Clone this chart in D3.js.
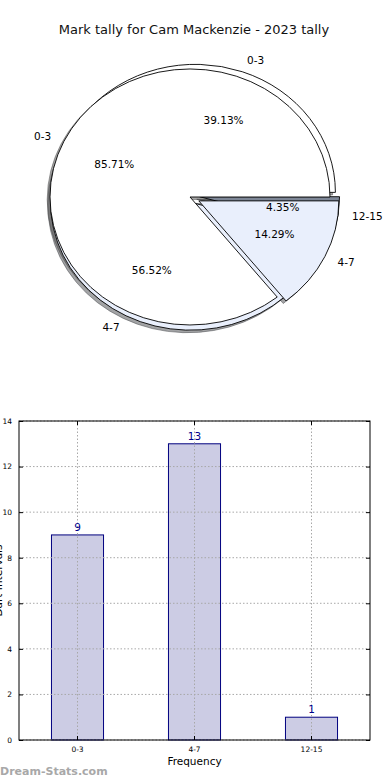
<!DOCTYPE html>
<html lang="en">
<head>
<meta charset="UTF-8">
<title>mark tally</title>
<script src="https://d3js.org/d3.v7.min.js"></script>
<style>
    body{margin:0;background:#fff}
    text{font-family:"DejaVu Sans",sans-serif}
</style>
</head>
<body>
<div id="fig"></div>
<script>
    let title = "Mark tally for Cam Mackenzie - 2023 tally"
    // first pie (all marks)
    let pieALabels = ["0-3","4-7","12-15"]
    let pieAValues = [9,13,1]
    let pieAExplode = [0.03,0.055,0.04]
    // second pie, drawn on top of the first
    let pieBLabels = ["0-3","4-7"]
    let pieBValues = [6,1]
    let pieBExplode = [0,0.07]
    let pieColors = ["#ffffff","#e9effc","#7d8696"]

    // bar chart
    let barCats = ["0-3","4-7","12-15"]
    let barValues = [9,13,1]
    let yTicks = d3.range(0,15,2)

    let w=390, h=780
    let svg = d3.select("#fig").append("svg").attr("width",w).attr("height",h)

    svg.append("text").attr("x",194).attr("y",34).attr("text-anchor","middle")
        .attr("font-size",13).attr("fill","#111").text(title)

    // ---------- pies ----------
    let rx=140, ry=128
    let pies = [
        {cx:194, cy:196, labels:pieALabels, values:pieAValues, explode:pieAExplode},
        {cx:190, cy:197, labels:pieBLabels, values:pieBValues, explode:pieBExplode}
    ]
    // matplotlib style: start at 3 o'clock, go counter clockwise
    let pieGen = d3.pie().sort(null).startAngle(Math.PI/2).endAngle(Math.PI/2-2*Math.PI)
    let arcGen = d3.arc().innerRadius(0).outerRadius(1)

    pies.forEach(function (p){
        let sum = d3.sum(p.values)
        p.arcs = pieGen(p.values).map(function (a,i){
            let m = (a.startAngle+a.endAngle)/2
            return {arc:a, i:i, dx:Math.sin(m), dy:-Math.cos(m), e:p.explode[i],
                label:p.labels[i], pct:d3.format(".2f")(a.value/sum*100)+"%"}
        })
    })

    function shade(c){
        let col = d3.rgb(c)
        return d3.rgb(col.r*0.3,col.g*0.3,col.b*0.3).toString()
    }

    let gPie = svg.append("g")
    // shadows sit under every wedge
    pies.forEach(function (p){
        p.arcs.forEach(function (d){
            gPie.append("path")
                .attr("transform",`translate(${p.cx+(d.e*d.dx-0.02)*rx},${p.cy+(d.e*d.dy+0.02)*ry}) scale(${rx},${ry})`)
                .attr("d",arcGen(d.arc))
                .attr("fill",shade(pieColors[d.i])).attr("fill-opacity",0.5)
                .attr("stroke",shade(pieColors[d.i])).attr("stroke-opacity",0.5)
                .attr("vector-effect","non-scaling-stroke")
        })
    })
    pies.forEach(function (p){
        p.arcs.forEach(function (d){
            gPie.append("path")
                .attr("transform",`translate(${p.cx+d.e*d.dx*rx},${p.cy+d.e*d.dy*ry}) scale(${rx},${ry})`)
                .attr("d",arcGen(d.arc))
                .attr("fill",pieColors[d.i])
                .attr("stroke","#000").attr("stroke-width",0.9)
                .attr("vector-effect","non-scaling-stroke")
        })
    })
    pies.forEach(function (p){
        p.arcs.forEach(function (d){
            let k = d.e+1.1
            gPie.append("text")
                .attr("x",p.cx+k*d.dx*rx).attr("y",p.cy+k*d.dy*ry)
                .attr("text-anchor",d.dx>0?"start":"end").attr("dominant-baseline","central")
                .attr("font-size",10.5).attr("fill","#000").text(d.label)
            let q = d.e+0.6
            gPie.append("text")
                .attr("x",p.cx+q*d.dx*rx).attr("y",p.cy+q*d.dy*ry)
                .attr("text-anchor","middle").attr("dominant-baseline","central")
                .attr("font-size",10.5).attr("fill","#000").text(d.pct)
        })
    })

    // ---------- bars ----------
    let pl=19, pr=370, pt=421, pb=740
    let x = d3.scaleBand().domain(barCats).range([pl,pr]).paddingInner(0.555).paddingOuter(0.2775)
    let y = d3.scaleLinear().domain([0,14]).range([pb,pt])
    let gBar = svg.append("g")

    gBar.selectAll(".bar").data(barValues).join("rect")
        .attr("x",function (d,i){return x(barCats[i])})
        .attr("y",function (d){return y(d)})
        .attr("width",x.bandwidth())
        .attr("height",function (d){return y(0)-y(d)})
        .attr("fill","#ccccE4").attr("stroke","#00007f").attr("stroke-width",1)

    // dotted grid over the bars
    gBar.selectAll(".gx").data(barCats).join("line")
        .attr("x1",function (d){return x(d)+x.bandwidth()/2}).attr("x2",function (d){return x(d)+x.bandwidth()/2})
        .attr("y1",pt).attr("y2",pb)
        .attr("stroke","#a8a8a8").attr("stroke-width",1).attr("stroke-dasharray","1.5,2")
    gBar.selectAll(".gy").data(yTicks).join("line")
        .attr("x1",pl).attr("x2",pr).attr("y1",function (d){return y(d)}).attr("y2",function (d){return y(d)})
        .attr("stroke","#a8a8a8").attr("stroke-width",1).attr("stroke-dasharray","1.5,2")

    gBar.selectAll(".val").data(barValues).join("text")
        .attr("x",function (d,i){return x(barCats[i])+x.bandwidth()/2})
        .attr("y",function (d){return y(d)-4})
        .attr("text-anchor","middle").attr("font-size",10.5).attr("fill","#00008b")
        .text(function (d){return d})

    // axes, ticks inward on all sides
    let yAxis = d3.axisLeft(y).tickValues(yTicks).tickSizeInner(-4).tickSizeOuter(0).tickPadding(7)
    let yAxisR = d3.axisRight(y).tickValues(yTicks).tickSizeInner(-4).tickSizeOuter(0).tickFormat("")
    let xAxis = d3.axisBottom(x).tickSizeInner(-4).tickSizeOuter(0).tickPadding(7)
    let xAxisT = d3.axisTop(x).tickSizeInner(-4).tickSizeOuter(0).tickFormat("")
    gBar.append("g").attr("transform",`translate(${pl},0)`).call(yAxis)
    gBar.append("g").attr("transform",`translate(${pr},0)`).call(yAxisR)
    gBar.append("g").attr("transform",`translate(0,${pb})`).call(xAxis)
    gBar.append("g").attr("transform",`translate(0,${pt})`).call(xAxisT)
    gBar.selectAll(".domain").remove()
    gBar.selectAll(".tick text").attr("font-family","DejaVu Sans").attr("font-size",7.5).attr("fill","#000")
    gBar.selectAll(".tick line").attr("stroke","#000")
    gBar.append("rect").attr("x",pl).attr("y",pt).attr("width",pr-pl).attr("height",pb-pt)
        .attr("fill","none").attr("stroke","#000").attr("stroke-width",1)

    gBar.append("text").attr("x",(pl+pr)/2).attr("y",765).attr("text-anchor","middle")
        .attr("font-size",10.5).attr("fill","#000").text("Frequency")
    // axis title sits mostly beyond the left edge, as in the source image
    gBar.append("text").attr("transform",`translate(1.5,${(pt+pb)/2}) rotate(-90)`)
        .attr("text-anchor","middle").attr("font-size",10.5).attr("fill","#000").text("Dart Intervals")

    svg.append("text").attr("x",0).attr("y",775).attr("font-size",11).attr("font-weight","bold")
        .attr("fill","#a8a8a8").text("Dream-Stats.com")
</script>
</body>
</html>
